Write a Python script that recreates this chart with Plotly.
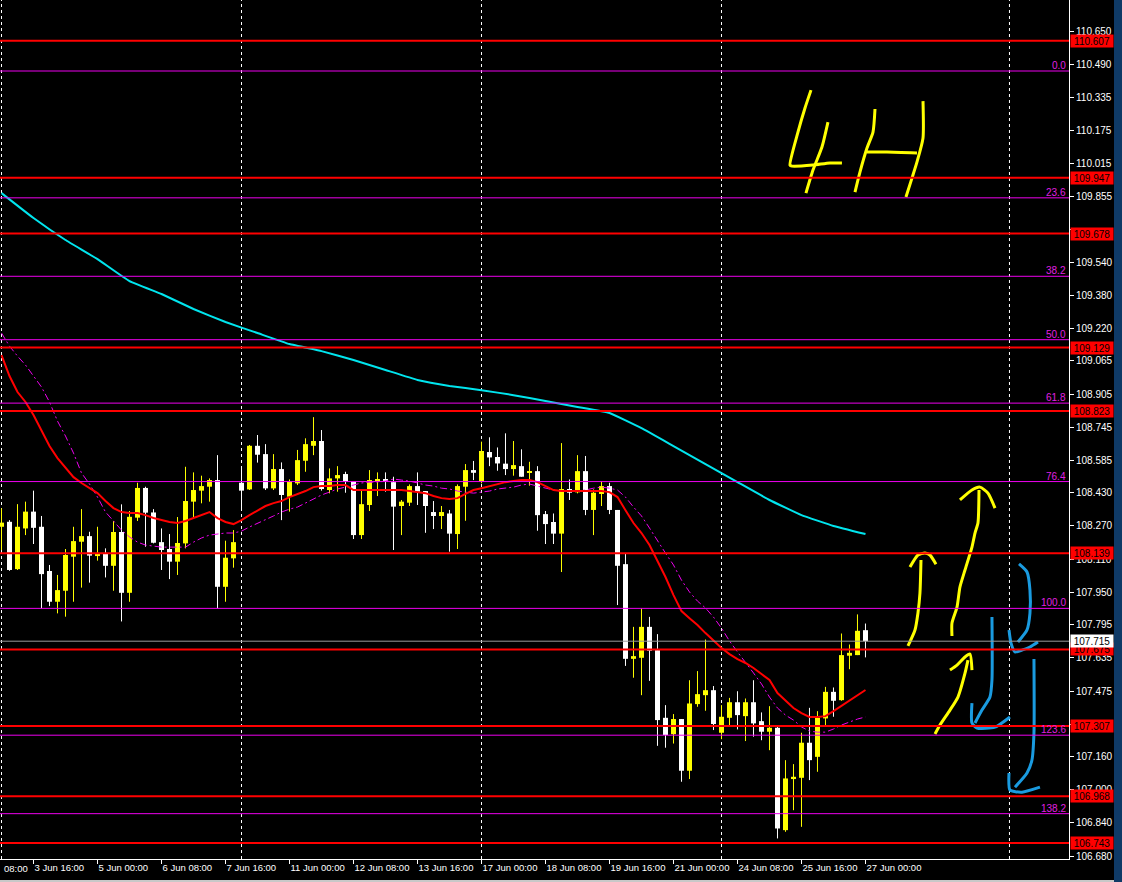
import plotly.graph_objects as go

# ---------------- data (USDJPY 4H, bar index 0 = 3 Jun 00:00) ----------------
opens = [108.266,108.290,108.062,108.258,108.339,108.266,108.053,107.905,107.958,108.122,
         108.194,108.221,108.125,108.135,108.078,108.241,107.948,108.310,108.453,108.335,
         108.192,108.159,108.098,108.186,108.387,108.440,108.459,108.491,107.977,108.114,
         108.478,108.446,108.656,108.616,108.451,108.544,108.411,108.475,108.584,108.656,
         108.679,108.443,108.499,108.520,108.486,108.226,108.371,108.486,108.496,108.481,
         108.366,108.382,108.462,108.438,108.337,108.318,108.330,108.231,108.459,108.539,
         108.483,108.626,108.602,108.570,108.544,108.558,108.526,108.534,108.327,108.289,
         108.233,108.448,108.432,108.534,108.347,108.424,108.462,108.347,108.086,107.630,
         107.635,107.784,107.672,107.346,107.267,107.340,107.091,107.412,107.455,107.479,
         107.274,107.346,107.421,107.354,107.421,107.330,107.279,107.298,106.805,107.051,
         107.057,107.226,107.158,107.343,107.471,107.431,107.645,107.648,107.768]
highs = [108.355,108.298,108.375,108.387,108.440,108.318,108.082,108.034,108.159,108.266,
         108.351,108.242,108.266,108.162,108.294,108.374,108.342,108.478,108.459,108.351,
         108.258,108.231,108.313,108.555,108.528,108.512,108.499,108.611,108.199,108.250,
         108.558,108.660,108.708,108.664,108.616,108.576,108.494,108.636,108.692,108.794,
         108.732,108.547,108.558,108.531,108.486,108.443,108.539,108.528,108.528,108.507,
         108.395,108.470,108.528,108.438,108.390,108.366,108.347,108.470,108.568,108.583,
         108.676,108.697,108.648,108.716,108.679,108.639,108.579,108.558,108.342,108.330,
         108.669,108.494,108.611,108.607,108.446,108.486,108.478,108.347,108.139,107.784,
         107.873,107.832,107.749,107.407,107.364,107.340,107.527,107.571,107.723,107.499,
         107.407,107.442,107.474,107.439,107.527,107.372,107.402,107.308,107.142,107.123,
         107.274,107.394,107.378,107.495,107.492,107.752,107.699,107.844,107.800]
lows = [108.154,108.054,108.058,108.226,108.183,107.873,107.884,107.849,107.833,107.905,
        107.973,107.997,108.103,108.022,107.958,107.810,107.905,108.294,108.170,108.186,
        108.058,108.014,108.034,108.162,108.310,108.379,108.387,107.873,107.905,108.069,
        108.343,108.443,108.575,108.443,108.443,108.298,108.339,108.467,108.531,108.611,
        108.440,108.427,108.435,108.430,108.207,108.207,108.342,108.414,108.435,108.154,
        108.226,108.366,108.371,108.237,108.255,108.255,108.146,108.159,108.295,108.491,
        108.475,108.558,108.536,108.515,108.512,108.507,108.464,108.247,108.183,108.183,
        108.048,108.395,108.427,108.322,108.226,108.366,108.327,107.889,107.596,107.539,
        107.455,107.524,107.211,107.202,107.222,107.038,107.051,107.399,107.380,107.287,
        107.243,107.303,107.290,107.234,107.255,107.238,107.190,106.765,106.797,106.901,
        106.821,107.046,107.086,107.308,107.351,107.428,107.580,107.648,107.637]
closes = [108.286,108.058,108.266,108.339,108.261,108.038,107.905,107.961,108.130,108.197,
          108.221,108.127,108.135,108.078,108.241,107.948,108.314,108.453,108.334,108.189,
          108.154,108.098,108.188,108.390,108.443,108.462,108.491,107.977,108.117,108.192,
          108.440,108.656,108.613,108.451,108.544,108.419,108.483,108.587,108.664,108.679,
          108.448,108.499,108.515,108.483,108.226,108.375,108.491,108.496,108.483,108.363,
          108.387,108.462,108.435,108.366,108.318,108.337,108.233,108.462,108.539,108.526,
          108.631,108.600,108.571,108.544,108.563,108.507,108.534,108.322,108.279,108.233,
          108.448,108.430,108.534,108.347,108.430,108.462,108.347,108.078,107.630,107.643,
          107.784,107.669,107.335,107.263,107.340,107.091,107.415,107.460,107.479,107.316,
          107.351,107.421,107.359,107.421,107.319,107.279,107.298,106.813,107.054,107.062,
          107.226,107.142,107.346,107.471,107.428,107.648,107.659,107.765,107.715]

ma_fast = [109.093,108.992,108.915,108.867,108.804,108.732,108.655,108.597,108.549,108.505,
           108.477,108.452,108.428,108.390,108.356,108.337,108.332,108.332,108.322,108.308,
           108.298,108.289,108.284,108.294,108.308,108.322,108.337,108.308,108.289,108.279,
           108.298,108.322,108.346,108.366,108.380,108.390,108.409,108.424,108.438,108.457,
           108.462,108.462,108.467,108.467,108.443,108.443,108.443,108.443,108.443,108.443,
           108.443,108.438,108.433,108.428,108.414,108.404,108.400,108.404,108.424,108.443,
           108.452,108.462,108.472,108.481,108.486,108.491,108.491,108.481,108.462,108.443,
           108.438,108.438,108.438,108.438,108.438,108.438,108.433,108.409,108.346,108.284,
           108.236,108.178,108.101,108.024,107.937,107.860,107.826,107.793,107.754,107.716,
           107.682,107.653,107.629,107.610,107.586,107.557,107.528,107.465,107.427,107.393,
           107.369,107.350,107.350,107.354,107.378,107.403,107.432,107.456,107.480]
ma_slow = [109.199,109.136,109.088,109.045,108.992,108.939,108.867,108.775,108.703,108.621,
           108.525,108.472,108.409,108.337,108.294,108.250,108.217,108.192,108.178,108.173,
           108.168,108.168,108.168,108.168,108.192,108.212,108.226,108.231,108.236,108.236,
           108.245,108.265,108.284,108.303,108.318,108.337,108.351,108.361,108.380,108.400,
           108.419,108.433,108.448,108.457,108.467,108.477,108.481,108.481,108.486,108.496,
           108.491,108.486,108.477,108.467,108.462,108.452,108.448,108.438,108.433,108.428,
           108.433,108.438,108.448,108.452,108.457,108.467,108.472,108.462,108.452,108.443,
           108.438,108.438,108.438,108.443,108.452,108.457,108.452,108.443,108.409,108.361,
           108.318,108.260,108.197,108.139,108.082,108.009,107.952,107.908,107.875,107.831,
           107.778,107.716,107.663,107.615,107.562,107.509,107.446,107.393,107.359,107.335,
           107.302,107.282,107.277,107.277,107.292,107.311,107.326,107.340,107.350]
ma_long_idx = list(range(0, 109, 4))
ma_long = [109.873,109.753,109.647,109.555,109.449,109.387,109.315,109.252,109.199,109.146,
           109.112,109.069,109.021,108.973,108.944,108.924,108.900,108.872,108.843,108.814,
           108.741,108.655,108.568,108.481,108.395,108.322,108.270,108.231]

red_levels = [110.607, 109.947, 109.678, 109.129, 108.823, 108.139, 107.675, 107.307, 106.968, 106.743]
fib_names = ["0.0", "23.6", "38.2", "50.0", "61.8", "76.4", "100.0", "123.6", "138.2"]
fib_ratios = [0.0, 0.236, 0.382, 0.5, 0.618, 0.764, 1.0, 1.236, 1.382]
fib_top, fib_bottom = 110.461, 107.873
bid_price = 107.715

separator_idx = [0, 30, 60, 90, 126]
xtick_idx = [4, 12, 20, 28, 36, 44, 52, 60, 68, 76, 84, 92, 100, 108]
xtick_text = ["3 Jun 16:00", "5 Jun 00:00", "6 Jun 08:00", "7 Jun 16:00", "11 Jun 00:00",
              "12 Jun 08:00", "13 Jun 16:00", "17 Jun 00:00", "18 Jun 08:00", "19 Jun 16:00",
              "21 Jun 00:00", "24 Jun 08:00", "25 Jun 16:00", "27 Jun 00:00"]
ytick_vals = [110.650, 110.490, 110.335, 110.175, 110.015, 109.855, 109.700, 109.540, 109.380,
              109.220, 109.065, 108.905, 108.745, 108.585, 108.430, 108.270, 108.110, 107.950,
              107.795, 107.635, 107.475, 107.315, 107.160, 107.000, 106.840, 106.680]
ytick_hidden = [109.700, 107.315]   # fully covered by price boxes in the terminal

# hand-drawn annotations (bar index, price)
yellow_strokes = [
    [(101.19,110.369),(100.44,110.283),(99.56,110.167),(98.56,110.008),(98.81,110.003),(101.44,110.008),(103.56,110.018),(105.06,110.018)],
    [(103.31,110.215),(102.56,110.095),(101.44,109.984),(100.56,109.873)],
    [(109.19,110.278),(108.94,110.167),(108.19,110.090),(107.31,109.974),(106.69,109.878)],
    [(108.19,110.071),(110.69,110.071),(114.44,110.066)],
    [(115.19,110.316),(115.19,110.138),(114.44,110.023),(113.81,109.945),(113.06,109.854)],
    [(113.31,107.692),(114.19,107.769),(114.56,107.851),(114.81,107.947),(114.94,108.106)],
    [(113.56,108.072),(114.56,108.130),(115.44,108.140),(116.06,108.130),(116.81,108.086)],
    [(118.81,107.740),(118.81,107.802),(119.44,107.879),(119.81,107.976),(120.44,108.058),(121.31,108.168),(121.69,108.236),(122.06,108.284),(122.19,108.443)],
    [(119.81,108.395),(121.31,108.443),(122.31,108.457),(123.31,108.428),(124.19,108.356)],
    [(116.69,107.268),(117.31,107.311),(118.56,107.383),(119.56,107.446),(120.44,107.561),(120.81,107.624)],
    [(118.56,107.576),(119.44,107.600),(120.44,107.639),(121.06,107.653),(121.31,107.576)],
]
blue_strokes = [
    [(127.19,108.087),(128.19,108.048),(128.56,107.961),(128.56,107.850),(128.19,107.769),(127.06,107.711)],
    [(125.94,107.769),(126.19,107.706),(126.69,107.663),(127.56,107.672),(128.56,107.687),(129.56,107.711)],
    [(123.81,107.831),(123.81,107.528),(123.56,107.446),(122.56,107.383),(121.69,107.321)],
    [(121.31,107.417),(121.31,107.321),(121.94,107.297),(124.19,107.301),(126.06,107.350)],
    [(129.06,107.629),(129.06,107.273),(128.81,107.143),(128.19,107.080),(126.69,107.012)],
    [(125.94,107.080),(126.06,106.998),(127.56,106.988),(129.81,107.012)],
]

# ---------------- figure ----------------
FONT = "Tahoma, Liberation Sans, Arial, sans-serif"
YELLOW, WHITE = "#ffff00", "#ffffff"
fig = go.Figure()

idx = list(range(len(opens)))
for up, col in ((True, YELLOW), (False, WHITE)):
    wx, wy, bx, bb, bh = [], [], [], [], []
    for i in idx:
        o, h, l, c = opens[i], highs[i], lows[i], closes[i]
        if (c >= o) != up:
            continue
        wx += [i, i, None]
        wy += [l, h, None]
        bx.append(i)
        bb.append(min(o, c))
        bh.append(max(abs(c - o), 0.003))
    fig.add_trace(go.Scatter(x=wx, y=wy, mode="lines", line=dict(color=col, width=1),
                             hoverinfo="skip", showlegend=False))
    fig.add_trace(go.Bar(x=bx, y=bh, base=bb, width=0.625, marker=dict(color=col, line=dict(width=0)),
                         hoverinfo="skip", showlegend=False))

fig.add_trace(go.Scatter(x=ma_long_idx, y=ma_long, mode="lines", line=dict(color="#00e5ee", width=2, shape="spline", smoothing=0.3),
                         hoverinfo="skip", showlegend=False))
fig.add_trace(go.Scatter(x=idx, y=ma_slow, mode="lines",
                         line=dict(color="#ee00ee", width=1, dash="7px,3px,2px,3px"),
                         hoverinfo="skip", showlegend=False))
fig.add_trace(go.Scatter(x=idx, y=ma_fast, mode="lines", line=dict(color="#ff0000", width=2),
                         hoverinfo="skip", showlegend=False))

for strokes, col in ((yellow_strokes, "#ffff00"), (blue_strokes, "#1a9be0")):
    sx, sy = [], []
    for s in strokes:
        sx += [p[0] for p in s] + [None]
        sy += [p[1] for p in s] + [None]
    fig.add_trace(go.Scatter(x=sx, y=sy, mode="lines", line=dict(color=col, width=3, shape="spline", smoothing=0.6),
                             connectgaps=False, hoverinfo="skip", showlegend=False))

shapes = []
for s in separator_idx:
    shapes.append(dict(type="line", xref="x", yref="paper", x0=s, x1=s, y0=0, y1=1, layer="below",
                       line=dict(color="#ffffff", width=1, dash="3px,3px")))
fib_levels = [fib_top - r * (fib_top - fib_bottom) for r in fib_ratios]
for lv in fib_levels:
    shapes.append(dict(type="line", xref="paper", yref="y", x0=0, x1=1, y0=lv, y1=lv,
                       line=dict(color="#ee00ee", width=1)))
shapes.append(dict(type="line", xref="paper", yref="y", x0=0, x1=1, y0=bid_price, y1=bid_price,
                   line=dict(color="#9a9a9a", width=1)))
for lv in red_levels:
    shapes.append(dict(type="line", xref="paper", yref="y", x0=0, x1=1, y0=lv, y1=lv,
                       line=dict(color="#ff0000", width=2)))
# window frame strips
shapes.append(dict(type="rect", xref="paper", yref="paper", x0=1114/1069, x1=1122/1069, y0=-23/859, y1=1,
                   fillcolor="#0f3a66", line=dict(width=0), layer="above"))
shapes.append(dict(type="rect", xref="paper", yref="paper", x0=0, x1=1114/1069, y0=-23/859, y1=-21/859,
                   fillcolor="#c8c8c8", line=dict(width=0), layer="above"))

annotations = []
for name, lv in zip(fib_names, fib_levels):
    annotations.append(dict(x=1, xref="paper", xanchor="right", xshift=-1, y=lv, yref="y", yanchor="bottom",
                            yshift=-2, text=name, showarrow=False, font=dict(color="#e020e0", size=10, family=FONT)))
for lv in red_levels:
    annotations.append(dict(x=1, xref="paper", xanchor="left", xshift=1, y=lv, yref="y", yanchor="middle",
                            text=f"{lv:.3f}", showarrow=False, bgcolor="#ff0000", width=40, height=10, borderpad=1,
                            font=dict(color="#000000", size=10, family=FONT)))
annotations.append(dict(x=1, xref="paper", xanchor="left", xshift=1, y=bid_price, yref="y", yanchor="middle",
                        text=f"{bid_price:.3f}", showarrow=False, bgcolor="#ffffff", width=40, height=10, borderpad=1,
                        font=dict(color="#000000", size=10, family=FONT)))
annotations.append(dict(x=0, xref="paper", xanchor="left", xshift=2, y=0, yref="paper", yanchor="top", yshift=-2,
                        text="08:00", showarrow=False, font=dict(color="#ffffff", size=9.5, family=FONT)))

fig.update_layout(
    width=1122, height=882,
    margin=dict(l=0, r=53, t=0, b=23, autoexpand=False),
    paper_bgcolor="#000000", plot_bgcolor="#000000",
    showlegend=False, hovermode=False, barmode="overlay",
    font=dict(family=FONT, color="#ffffff", size=9.5),
    shapes=shapes, annotations=annotations,
    xaxis=dict(range=[-0.1875, 133.44], showgrid=False, zeroline=False, showline=True, linecolor="#ffffff",
               linewidth=1, ticks="outside", ticklen=4, tickcolor="#ffffff", tickvals=xtick_idx,
               ticktext=xtick_text, ticklabelposition="outside right", automargin=False,
               tickfont=dict(color="#ffffff", size=9.5, family=FONT)),
    yaxis=dict(range=[106.666, 110.803], side="right", showgrid=False, zeroline=False, showline=True,
               linecolor="#ffffff", linewidth=1, ticks="outside", ticklen=4, tickcolor="#ffffff",
               tickvals=ytick_vals, automargin=False,
               ticktext=["" if v in ytick_hidden else f"{v:.3f}" for v in ytick_vals],
               tickfont=dict(color="#ffffff", size=10, family=FONT)),
)
fig.write_html("out.html", config={"displayModeBar": False},
               post_script="document.body.style.margin='0';document.body.style.overflow='hidden';")
